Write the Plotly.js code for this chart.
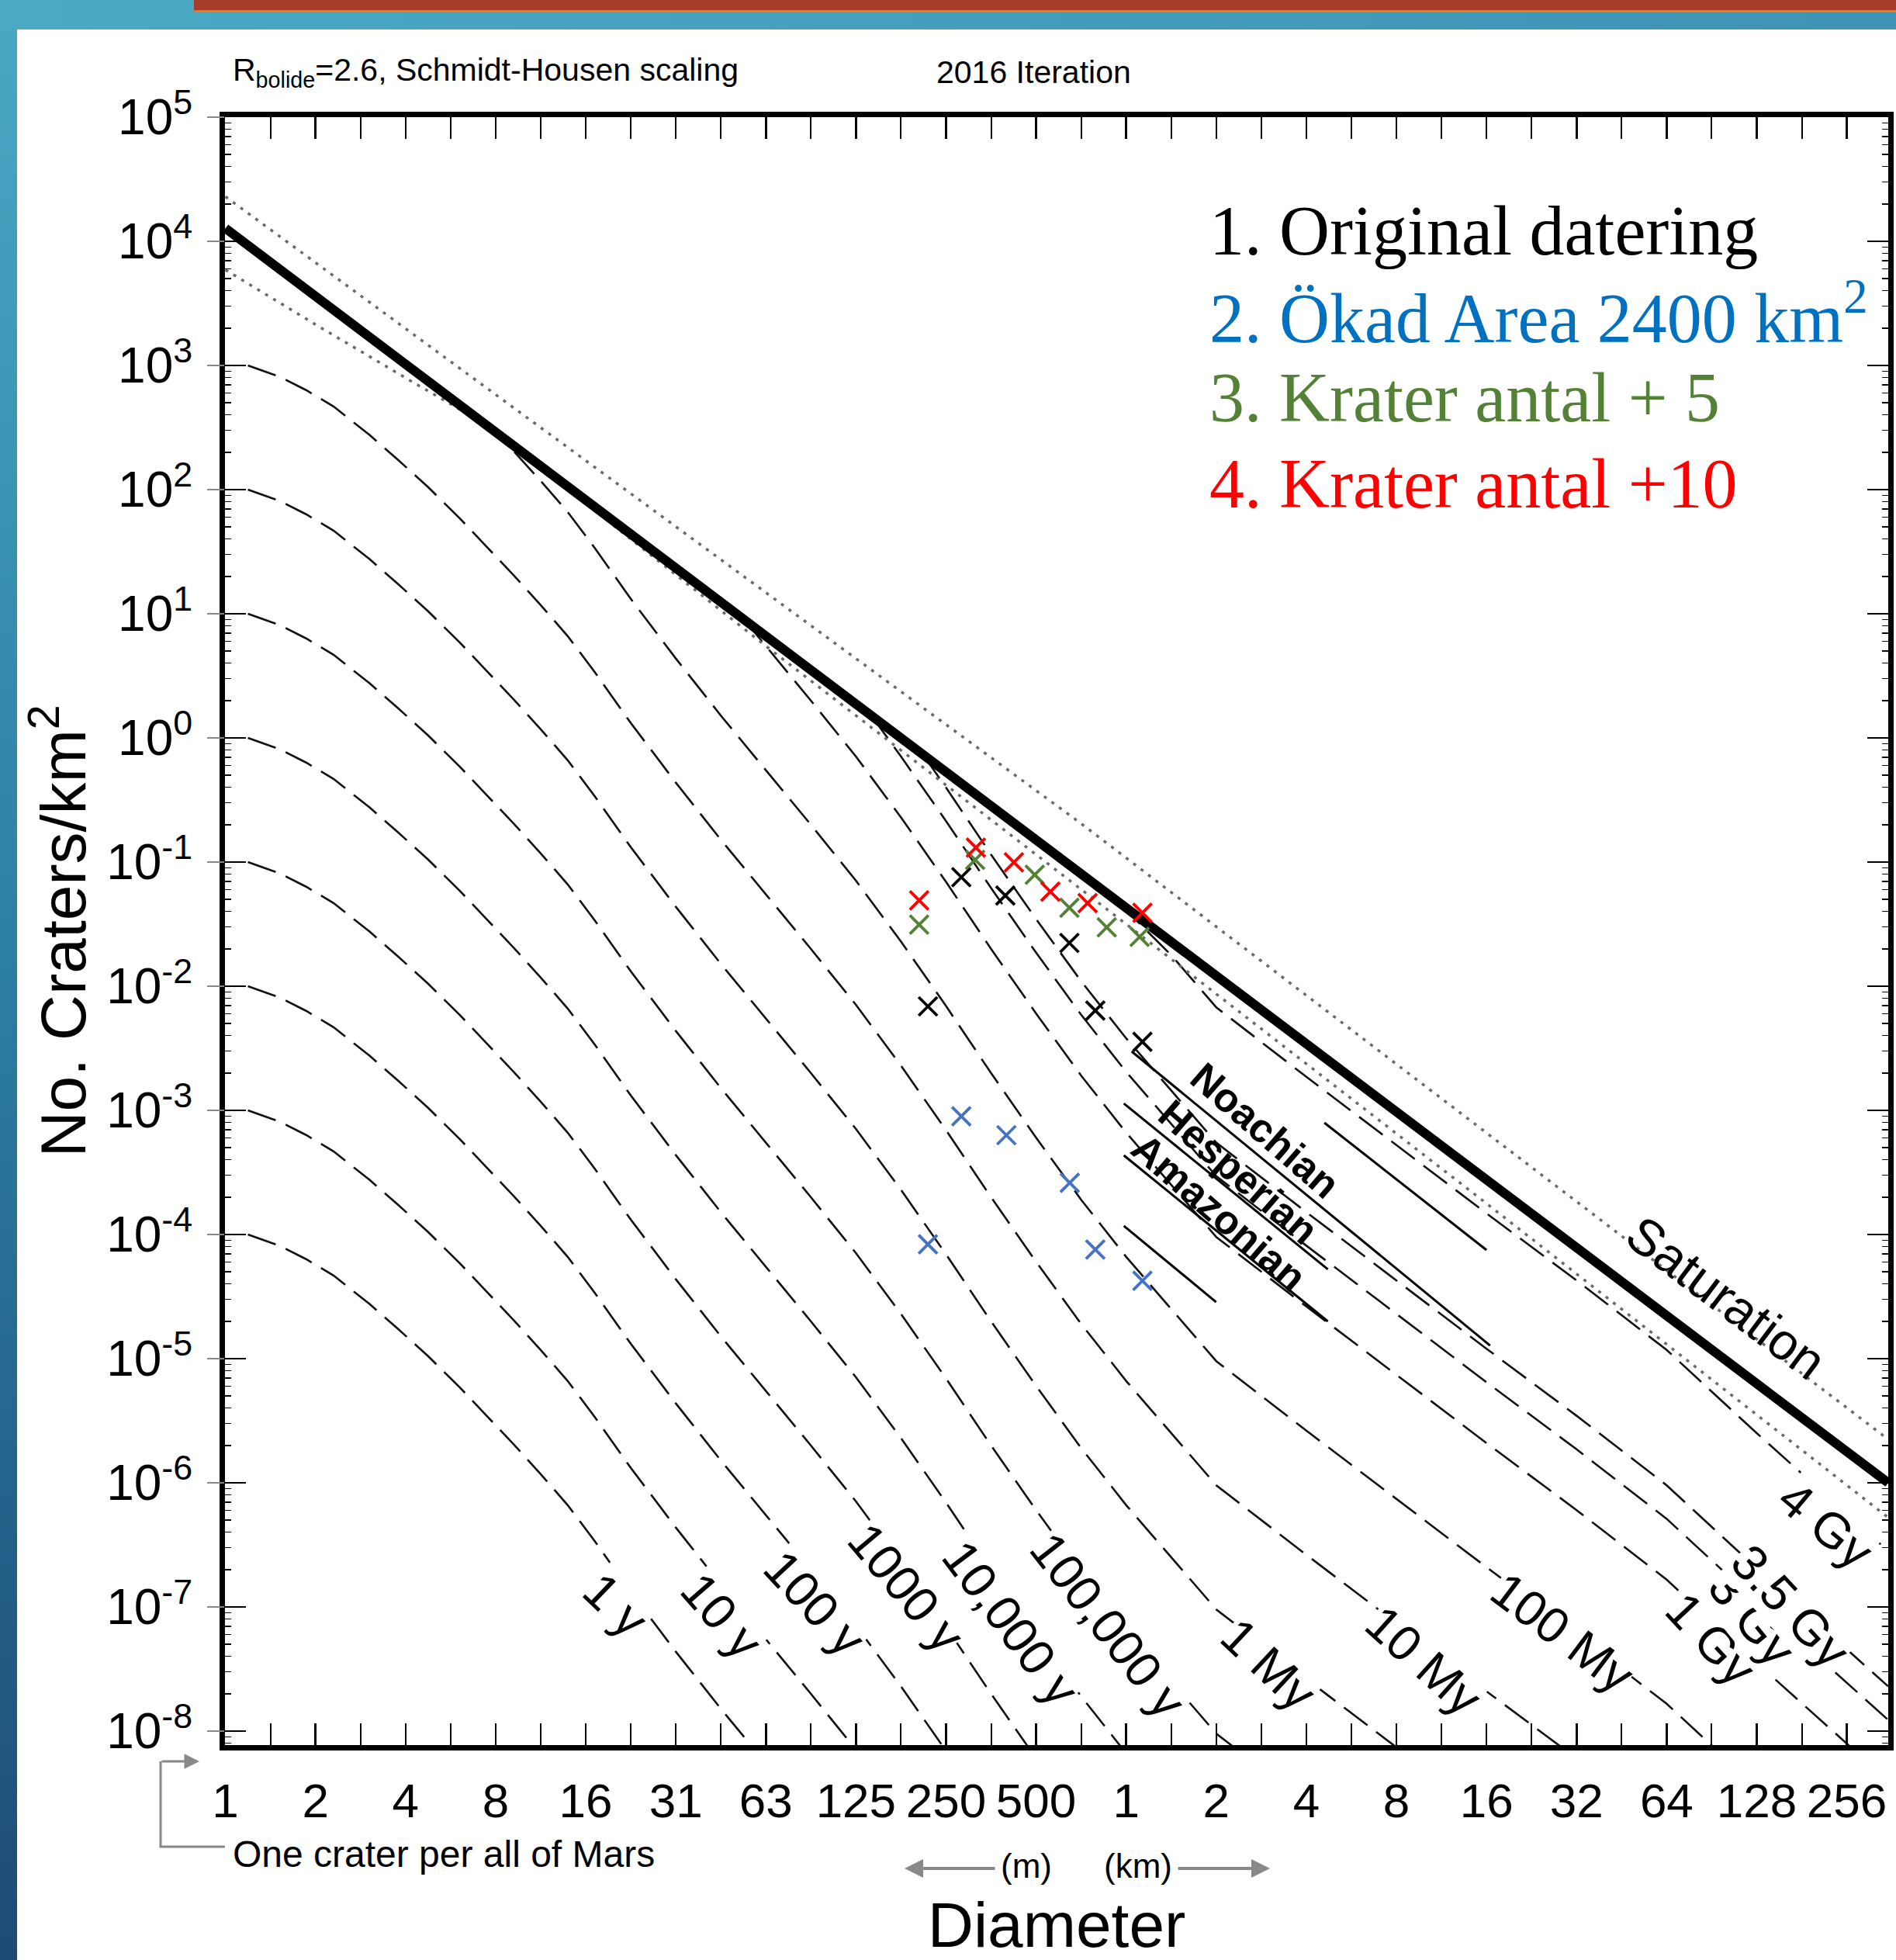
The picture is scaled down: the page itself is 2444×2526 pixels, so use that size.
<!DOCTYPE html>
<html><head><meta charset="utf-8">
<script src="https://cdn.plot.ly/plotly-3.0.1.min.js"></script>
<style>
html,body{margin:0;padding:0;}
body{width:2444px;height:2526px;position:relative;overflow:hidden;background:linear-gradient(to bottom,#4AA8C4 0%,#2E82A6 45%,#1D4B76 100%);}
#topband{position:absolute;left:0;top:0;width:2444px;height:38px;background:linear-gradient(to right,#4AA9C5,#3F93B6);}
#redbar{position:absolute;left:250px;top:0;width:2194px;height:13px;background:#A63B27;border-bottom:3px solid #E07D1A;}
#panel{position:absolute;left:22px;top:38px;width:2422px;height:2488px;background:#fff;}
#chart{position:absolute;left:0;top:0;width:2444px;height:2526px;}
</style></head><body>
<div id="topband"></div><div id="redbar"></div><div id="panel"></div>
<div id="chart"></div>
<script>
// ---------- DATA (diameters in km, densities as log10 craters/km^2) ----------
const diam = [0.001161,0.001480,0.001822,0.002244,0.002960,0.003645,0.004645,0.005921,0.007289,0.008974,
  0.01105,0.01360,0.01675,0.02210,0.03125,0.04419,0.0625,0.08839,0.125,0.1768,0.25,0.3536,0.5,0.7071,
  1,1.414,2,4,8,16,32,64,128,256,352];

const iso_1y    = [-4.00,-4.09,-4.20,-4.33,-4.56,-4.75,-4.98,-5.23,-5.46,-5.69,-5.93,-6.18,-6.47,-6.88,-7.36,-7.82,-8.26];
const iso_10y   = [-3.00,-3.09,-3.20,-3.33,-3.56,-3.75,-3.98,-4.23,-4.46,-4.69,-4.93,-5.18,-5.47,-5.88,-6.36,-6.82,-7.26,-7.70,-8.15];
const iso_100y  = [-2.00,-2.09,-2.20,-2.33,-2.56,-2.75,-2.98,-3.23,-3.46,-3.69,-3.93,-4.18,-4.47,-4.88,-5.36,-5.82,-6.26,-6.70,-7.15,-7.64,-8.16];
const iso_1000y = [-1.00,-1.09,-1.20,-1.33,-1.56,-1.75,-1.98,-2.23,-2.46,-2.69,-2.93,-3.18,-3.47,-3.88,-4.36,-4.82,-5.26,-5.70,-6.15,-6.64,-7.16,-7.70,-8.22];
const iso_1e4y  = [0.00,-0.09,-0.20,-0.33,-0.56,-0.75,-0.98,-1.23,-1.46,-1.69,-1.93,-2.18,-2.47,-2.88,-3.36,-3.82,-4.26,-4.70,-5.15,-5.64,-6.16,-6.70,-7.22,-7.72,-8.18];
const iso_1e5y  = [1.00,0.91,0.80,0.67,0.44,0.25,0.02,-0.23,-0.46,-0.69,-0.93,-1.18,-1.47,-1.88,-2.36,-2.82,-3.26,-3.70,-4.15,-4.64,-5.16,-5.70,-6.22,-6.72,-7.18,-7.60,-8.02,-8.58];
const iso_1My   = [2.00,1.91,1.80,1.67,1.44,1.25,1.02,0.77,0.54,0.31,0.07,-0.18,-0.47,-0.88,-1.36,-1.82,-2.26,-2.70,-3.15,-3.64,-4.16,-4.70,-5.22,-5.72,-6.18,-6.60,-7.02,-7.58,-8.13];
const iso_10My  = [3.00,2.91,2.80,2.67,2.44,2.25,2.02,1.77,1.54,1.31,1.07,0.82,0.53,0.12,-0.36,-0.82,-1.26,-1.70,-2.15,-2.64,-3.16,-3.70,-4.22,-4.72,-5.18,-5.60,-6.02,-6.58,-7.13,-7.68,-8.22];

const d_100My   = [0.007289,0.008974,0.01105,0.01360,0.01675,0.02210,0.03125,0.04419,0.0625,0.08839,0.125,0.1768,0.25,0.3536,0.5,0.7071,1,1.414,2,4,8,16,32,64,128];
const iso_100My = [2.54,2.31,2.07,1.82,1.53,1.12,0.64,0.18,-0.26,-0.70,-1.15,-1.64,-2.16,-2.70,-3.22,-3.72,-4.18,-4.60,-5.02,-5.58,-6.13,-6.68,-7.22,-7.78,-8.45];
const d_1Gy     = [0.05256,0.0625,0.08839,0.125,0.1768,0.25,0.3536,0.5,0.7071,1,1.414,2,4,8,16,32,64,128,256,352];
const iso_1Gy   = [0.96,0.74,0.30,-0.15,-0.64,-1.16,-1.70,-2.22,-2.72,-3.18,-3.60,-4.02,-4.58,-5.13,-5.68,-6.22,-6.78,-7.45,-8.10,-8.40];
const d_3Gy     = [0.1397,0.1768,0.25,0.3536,0.5,0.7071,1,1.414,2,4,8,16,32,64,128,256,352];
const iso_3Gy   = [0.19,-0.15,-0.67,-1.21,-1.73,-2.23,-2.69,-3.11,-3.53,-4.09,-4.64,-5.19,-5.73,-6.29,-6.96,-7.61,-7.91];
const d_35Gy    = [0.2088,0.25,0.3536,0.5,0.7071,1,1.414,2,4,8,16,32,64,128,256,352];
const iso_35Gy  = [-0.13,-0.40,-0.94,-1.46,-1.96,-2.42,-2.84,-3.26,-3.82,-4.37,-4.92,-5.46,-6.02,-6.69,-7.34,-7.64];
const d_4Gy     = [0.9461,1.414,2,4,8,16,32,64,128,256,352];
const iso_4Gy   = [-1.33,-1.75,-2.17,-2.73,-3.28,-3.83,-4.37,-4.93,-5.60,-6.25,-6.55];

const sat_d = [0.0009766, 352];
const sat_logN = [4.105, -6.0];
const satHi_d = [0.0009766, 0.7071, 352];
const satHi_logN = [4.36, -0.69, -5.65];
const satLo_d = [0.0009766, 0.001953, 0.003906, 0.007289, 0.0625, 1, 16, 352];
const satLo_logN = [3.77, 3.33, 2.90, 2.52, 0.74, -1.50, -3.75, -6.28];

const epoch_d = [[1.0425,16.45],[4.595,16.0],[0.982,4.72],[0.982,4.72],[0.982,1.998]];
const epoch_logN = [[-2.525,-4.894],[-3.10,-4.125],[-2.944,-4.281],[-3.3625,-4.70],[-3.931,-4.544]];

const black_d = [0.2175,0.2812,0.3945,0.6459,0.7885,1.133];
const black_N = [0.00688,0.0755,0.0538,0.0223,0.00637,0.00357];
const blue_d  = [0.2812,0.3978,0.6477,0.2175,0.7885,1.133];
const blue_N  = [8.97e-4,6.31e-4,2.61e-4,8.33e-5,7.56e-5,4.24e-5];
const green_d = [0.2033,0.3128,0.4948,0.6459,0.8609,1.109];
const green_N = [0.0313,0.1042,0.0791,0.0429,0.0298,0.0250];
const red_d   = [0.2033,0.3145,0.4214,0.5579,0.7431,1.133];
const red_N   = [0.0491,0.1306,0.0995,0.0577,0.0467,0.0390];

const xTickVals = [0.0009765625,0.001953125,0.00390625,0.0078125,0.015625,0.03125,0.0625,0.125,0.25,0.5,1,2,4,8,16,32,64,128,256];
const xTickText = ['1','2','4','8','16','31','63','125','250','500','1','2','4','8','16','32','64','128','256'];
const yTickVals = [1e5,1e4,1e3,1e2,1e1,1,1e-1,1e-2,1e-3,1e-4,1e-5,1e-6,1e-7,1e-8];
const yTickText = ['10<sup>5</sup>','10<sup>4</sup>','10<sup>3</sup>','10<sup>2</sup>','10<sup>1</sup>','10<sup>0</sup>',
  '10<sup>-1</sup>','10<sup>-2</sup>','10<sup>-3</sup>','10<sup>-4</sup>','10<sup>-5</sup>','10<sup>-6</sup>','10<sup>-7</sup>','10<sup>-8</sup>'];

const isoLabels = ['1 y','10 y','100 y','1000 y','10,000 y','100,000 y','1 My','10 My','100 My','1 Gy','3 Gy','3.5 Gy','4 Gy'];

// ---------- helpers ----------
const pw = 2144, ph = 2098, L0 = 290, B0 = 2249;
const px2x = p => (p - L0) / pw;
const py2y = p => (B0 - p) / ph;
const pow10 = a => a.map(v => Math.pow(10, v));

const DASH = '38px,14px';
const traces = [];
function iso(x, logN) {
  traces.push({x: x, y: pow10(logN), mode: 'lines', line: {color: '#111', width: 2.6, dash: DASH}, hoverinfo: 'skip'});
}
iso(diam.slice(0, iso_1y.length), iso_1y);
iso(diam.slice(0, iso_10y.length), iso_10y);
iso(diam.slice(0, iso_100y.length), iso_100y);
iso(diam.slice(0, iso_1000y.length), iso_1000y);
iso(diam.slice(0, iso_1e4y.length), iso_1e4y);
iso(diam.slice(0, iso_1e5y.length), iso_1e5y);
iso(diam.slice(0, iso_1My.length), iso_1My);
iso(diam.slice(0, iso_10My.length), iso_10My);
iso(d_100My, iso_100My);
iso(d_1Gy, iso_1Gy);
iso(d_3Gy, iso_3Gy);
iso(d_35Gy, iso_35Gy);
iso(d_4Gy, iso_4Gy);

const DOT = {color: '#6a6a6a', width: 3.5, dash: '4px,8px'};
traces.push({x: satHi_d, y: pow10(satHi_logN), mode: 'lines', line: DOT});
traces.push({x: satLo_d, y: pow10(satLo_logN), mode: 'lines', line: DOT});
traces.push({x: sat_d, y: pow10(sat_logN), mode: 'lines', line: {color: '#000', width: 12}});
for (let i = 0; i < epoch_d.length; i++) {
  traces.push({x: epoch_d[i], y: pow10(epoch_logN[i]), mode: 'lines', line: {color: '#000', width: 3}});
}
function marks(x, y, c) {
  traces.push({x: x, y: y, mode: 'markers', marker: {symbol: 'x-thin', size: 24, color: c, line: {color: c, width: 3.8}}});
}
marks(black_d, black_N, '#000000');
marks(blue_d, blue_N, '#4472C4');
marks(green_d, green_N, '#548235');
marks(red_d, red_N, '#FF0000');
traces.push({x: [null], y: [null], yaxis: 'y2', mode: 'lines', hoverinfo: 'skip'});

// minor ticks
const xMinor = xTickVals.map(v => v * Math.SQRT2);
const yMinor = [];
for (let k = -9; k <= 4; k++) for (let m = 2; m <= 9; m++) yMinor.push(m * Math.pow(10, k));

// ---------- annotations ----------
const ann = [];
function txt(o) { ann.push(Object.assign({xref: 'paper', yref: 'paper', showarrow: false, xanchor: 'center', yanchor: 'middle'}, o)); }
const isoPos = [[793,2068,44],[930,2082,49],[1050,2066,47],[1168,2046,50],[1303,2092,53],[1428,2094,52],
  [1635,2145,43],[1835,2140,42],[2014,2104,37],[2205,2112,47],[2258,2085,51],[2308,2070,47],[2353,1965,40]];
isoLabels.forEach((t, i) => {
  const p = isoPos[i];
  txt({text: t, x: px2x(p[0]), y: py2y(p[1]), textangle: p[2], font: {size: 64, color: '#000'}, bgcolor: '#fff', borderpad: 0});
});
txt({text: 'Saturation', x: px2x(2225), y: py2y(1672), textangle: 37, font: {size: 66, color: '#000'}});
[['Noachian',1631,1457],['Hesperian',1596,1510],['Amazonian',1571,1562]].forEach(e => {
  txt({text: '<b>' + e[0] + '</b>', x: px2x(e[1]), y: py2y(e[2]), textangle: 41, font: {size: 52, color: '#000'}});
});
txt({text: 'R<sub>bolide</sub>=2.6, Schmidt-Housen scaling', x: px2x(298), y: py2y(93), xanchor: 'left', font: {size: 41, color: '#000'}});
txt({text: '2016 Iteration', x: px2x(1205), y: py2y(93), xanchor: 'left', font: {size: 41, color: '#000'}});
const legendLines = [['1. Original datering','#000000',297],['2. Ökad Area 2400 km<sup>2</sup>','#0070C0',403],
  ['3. Krater antal + 5','#538135',512],['4. Krater antal +10','#FF0000',623]];
legendLines.forEach(l => {
  txt({text: l[0], x: px2x(1557), y: py2y(l[2]), xanchor: 'left',
    font: {family: 'Liberation Serif, Times New Roman, serif', size: 90, color: l[1]}});
});
txt({text: 'One crater per all of Mars', x: px2x(298), y: py2y(2389), xanchor: 'left', font: {size: 48, color: '#000'}});
txt({text: '(m)', x: px2x(1323), y: py2y(2404), font: {size: 44, color: '#000'}});
txt({text: '(km)', x: px2x(1467), y: py2y(2404), font: {size: 44, color: '#000'}});
ann.push({text: '', x: px2x(1166), y: py2y(2408), ax: 118, ay: 0, xref: 'paper', yref: 'paper', showarrow: true,
  arrowhead: 2, arrowsize: 1.2, arrowwidth: 4, arrowcolor: '#888'});
ann.push({text: '', x: px2x(1637), y: py2y(2408), ax: -120, ay: 0, xref: 'paper', yref: 'paper', showarrow: true,
  arrowhead: 2, arrowsize: 1.2, arrowwidth: 4, arrowcolor: '#888'});
ann.push({text: '', x: px2x(257), y: py2y(2270), ax: -50, ay: 0, xref: 'paper', yref: 'paper', showarrow: true,
  arrowhead: 2, arrowsize: 1.3, arrowwidth: 3, arrowcolor: '#888'});

const shapes = [{type: 'path', xref: 'paper', yref: 'paper',
  path: 'M' + px2x(207) + ',' + py2y(2270) + ' L' + px2x(207) + ',' + py2y(2380) + ' L' + px2x(290) + ',' + py2y(2380),
  line: {color: '#888', width: 3}}];

const layout = {
  width: 2444, height: 2526,
  margin: {l: 290, r: 10, t: 151, b: 277},
  paper_bgcolor: 'rgba(0,0,0,0)', plot_bgcolor: '#fff',
  showlegend: false,
  font: {family: 'Liberation Sans, Arial, sans-serif', color: '#000'},
  xaxis: {
    type: 'log', range: [-3.0118, 2.5467],
    tickmode: 'array', tickvals: xTickVals, ticktext: xTickText,
    ticks: 'inside', ticklen: 28, tickwidth: 2.5, tickcolor: '#000',
    minor: {tickmode: 'array', tickvals: xMinor, ticks: 'inside', ticklen: 10, tickwidth: 2, tickcolor: '#000'},
    showline: true, linewidth: 7, linecolor: '#000', mirror: 'allticks',
    showgrid: false, zeroline: false,
    tickfont: {size: 62}, ticklabelstandoff: 12,
    title: {text: 'Diameter', font: {size: 82}, standoff: 100}
  },
  yaxis: {
    type: 'log', range: [-8.1125, 5],
    tickmode: 'array', tickvals: yTickVals, ticktext: yTickText,
    ticks: 'inside', ticklen: 27, tickwidth: 2.5, tickcolor: '#000',
    minor: {tickmode: 'array', tickvals: yMinor, ticks: 'inside', ticklen: 8, tickwidth: 1.5, tickcolor: '#000'},
    showline: true, linewidth: 7, linecolor: '#000', mirror: 'allticks',
    showgrid: false, zeroline: false,
    tickfont: {size: 64}, ticklabelstandoff: 22,
    title: {text: 'No. Craters/km<sup>2</sup>', font: {size: 82}, standoff: 2}
  },
  yaxis2: {
    type: 'log', range: [-8.1125, 5], overlaying: 'y', side: 'left',
    tickmode: 'array', tickvals: yTickVals, ticks: 'outside', ticklen: 22, tickwidth: 2, tickcolor: '#888',
    showticklabels: false, showline: false, showgrid: false, zeroline: false
  },
  annotations: ann,
  shapes: shapes
};
Plotly.newPlot('chart', traces, layout, {staticPlot: true, displayModeBar: false});
</script></body></html>
